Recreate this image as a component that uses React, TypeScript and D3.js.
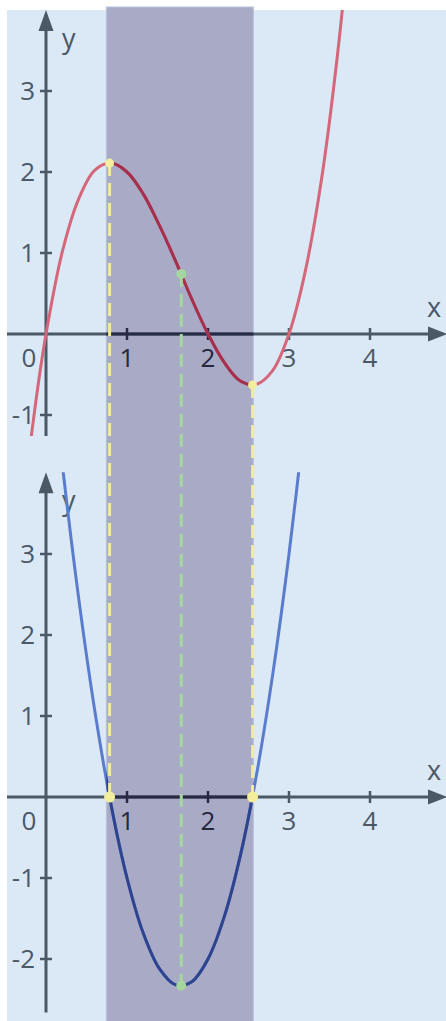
import React from 'react'
import * as d3 from 'd3'

// cubic f(x) and its derivative f'(x)
const cubicX = [-0.2, -0.1, 0, 0.2, 0.4, 0.6, 0.8, 1.0, 1.2, 1.4, 1.6, 1.8, 2.0, 2.2, 2.4, 2.6, 2.8, 3.0, 3.2, 3.4, 3.6, 3.8]
const cubicY = [-1.41, -0.65, 0, 1.01, 1.66, 2.02, 2.11, 2.0, 1.73, 1.34, 0.9, 0.43, 0, -0.35, -0.58, -0.62, -0.45, 0, 0.77, 1.9, 3.46, 5.47]
const derivX = [0, 0.2, 0.4, 0.6, 0.8, 1.0, 1.2, 1.4, 1.6, 1.8, 2.0, 2.2, 2.4, 2.6, 2.8, 3.0, 3.2]
const derivY = [6, 4.12, 2.48, 1.08, -0.08, -1, -1.68, -2.12, -2.32, -2.28, -2, -1.48, -0.72, 0.28, 1.52, 3, 4.72]

const xTicks = [1, 2, 3, 4]
const yTicksTop = [-1, 1, 2, 3]
const yTicksBottom = [-2, -1, 1, 2, 3]

const extremaX = [0.785, 2.55]
const extremaY = [2.11, -0.63]
const inflectionX = 1.67
const inflectionY = 0.74
const derivMinY = -2.33
const band = [0.745, 2.56]

const W = 446
const H = 1021
const FONT = '"Open Sans", "DejaVu Sans", sans-serif'
const AXIS = '#4b5866'
const AXIS_DARK = '#262a45'

const x = d3.scaleLinear().domain([0, 1]).range([46, 127])
const yTop = d3.scaleLinear().domain([0, 1]).range([334, 253])
const yBot = d3.scaleLinear().domain([0, 1]).range([797, 716])

const inBand = (v: number) => v >= band[0] && v <= band[1]

function Axes({ y, yMin, yMax, yTicks }: { y: d3.ScaleLinear<number, number>, yMin: number, yMax: number, yTicks: number[] }) {
  const y0 = y(0)
  const tipY = y(yMax)
  return (
    <g>
      <line x1={7} x2={432} y1={y0} y2={y0} stroke={AXIS} strokeWidth={3} />
      <line x1={x(band[0])} x2={x(band[1])} y1={y0} y2={y0} stroke={AXIS_DARK} strokeWidth={3} />
      <polygon points={`${W + 1},${y0} ${W - 18},${y0 - 7.5} ${W - 18},${y0 + 7.5}`} fill={AXIS} />
      <line x1={x(0)} x2={x(0)} y1={y(yMin)} y2={tipY + 18} stroke={AXIS} strokeWidth={3} />
      <polygon points={`${x(0)},${tipY} ${x(0) - 7.5},${tipY + 21} ${x(0) + 7.5},${tipY + 21}`} fill={AXIS} />
      {xTicks.map(t => (
        <g key={'x' + t}>
          <line x1={x(t)} x2={x(t)} y1={y0 - 6} y2={y0 + 6} stroke={inBand(t) ? AXIS_DARK : AXIS} strokeWidth={2.5} />
          <text x={x(t)} y={y0 + 33} textAnchor="middle" fontSize={26} fontFamily={FONT} fill={inBand(t) ? '#23263d' : AXIS}>{t}</text>
        </g>
      ))}
      <text x={29} y={y0 + 33} textAnchor="middle" fontSize={26} fontFamily={FONT} fill={AXIS}>0</text>
      {yTicks.map(t => (
        <g key={'y' + t}>
          <line x1={x(0) - 6} x2={x(0) + 6} y1={y(t)} y2={y(t)} stroke={AXIS} strokeWidth={2.5} />
          <text x={35} y={y(t) + 9} textAnchor="end" fontSize={26} fontFamily={FONT} fill={AXIS}>{t}</text>
        </g>
      ))}
      <text x={434} y={y0 - 17} textAnchor="middle" fontSize={27} fontFamily={FONT} fill={AXIS}>x</text>
      <text x={62} y={tipY + 38} fontSize={27} fontFamily={FONT} fill={AXIS}>y</text>
    </g>
  )
}

export default function App() {
  const cubicLine = d3.line<number>()
    .x((_, i) => x(cubicX[i]))
    .y(d => yTop(d))
    .curve(d3.curveCatmullRom)
  const derivLine = d3.line<number>()
    .x((_, i) => x(derivX[i]))
    .y(d => yBot(d))
    .curve(d3.curveCatmullRom)

  const topY0 = yTop(4), topY1 = yTop(-1.26)
  const botY0 = yBot(4.01), botY1 = yBot(-2.66)
  const bx0 = x(band[0]), bx1 = x(band[1])

  const dash = '13 7'
  return (
    <div style={{ position: 'absolute', left: 0, top: 0 }}>
      <svg width={W} height={H} style={{ display: 'block' }}>
        <defs>
          <clipPath id="topClip"><rect x={7} y={topY0} width={W} height={topY1 - topY0} /></clipPath>
          <clipPath id="topBand"><rect x={bx0} y={topY0} width={bx1 - bx0} height={topY1 - topY0} /></clipPath>
          <clipPath id="botClip"><rect x={7} y={botY0} width={W} height={botY1 - botY0} /></clipPath>
          <clipPath id="botBand"><rect x={bx0} y={botY0} width={bx1 - bx0} height={botY1 - botY0} /></clipPath>
        </defs>
        <rect x={7} y={10} width={W - 7} height={H - 10} fill="#dbe9f6" />
        <rect x={bx0} y={7} width={bx1 - bx0} height={H} fill="#a9aac6" stroke="#b9c2de" strokeWidth={1} />

        <Axes y={yTop} yMin={-1.26} yMax={4} yTicks={yTicksTop} />
        <Axes y={yBot} yMin={-2.66} yMax={4.01} yTicks={yTicksBottom} />

        <path d={cubicLine(cubicY) ?? ''} fill="none" stroke="#d4677a" strokeWidth={3} clipPath="url(#topClip)" />
        <path d={cubicLine(cubicY) ?? ''} fill="none" stroke="#a3304f" strokeWidth={3} clipPath="url(#topBand)" />
        <path d={derivLine(derivY) ?? ''} fill="none" stroke="#5a7ccc" strokeWidth={3} clipPath="url(#botClip)" />
        <path d={derivLine(derivY) ?? ''} fill="none" stroke="#2f448f" strokeWidth={3} clipPath="url(#botBand)" />

        {extremaX.map((ex, i) => (
          <line key={'d' + i} x1={x(ex)} x2={x(ex)} y1={yTop(extremaY[i])} y2={yBot(0)} stroke="#f1eb9c" strokeWidth={3} strokeDasharray={dash} />
        ))}
        <line x1={x(inflectionX)} x2={x(inflectionX)} y1={yTop(inflectionY)} y2={yBot(derivMinY)} stroke="#a6d6a0" strokeWidth={3} strokeDasharray={dash} />

        {extremaX.map((ex, i) => (
          <g key={'p' + i}>
            <circle cx={x(ex)} cy={yTop(extremaY[i])} r={4.5} fill="#f3ee9e" />
            <circle cx={x(ex)} cy={yBot(0)} r={5.5} fill="#f3ee9e" />
          </g>
        ))}
        <circle cx={x(inflectionX)} cy={yTop(inflectionY)} r={5} fill="#a6d6a0" />
        <circle cx={x(inflectionX)} cy={yBot(derivMinY)} r={5} fill="#a6d6a0" />
      </svg>
    </div>
  )
}
